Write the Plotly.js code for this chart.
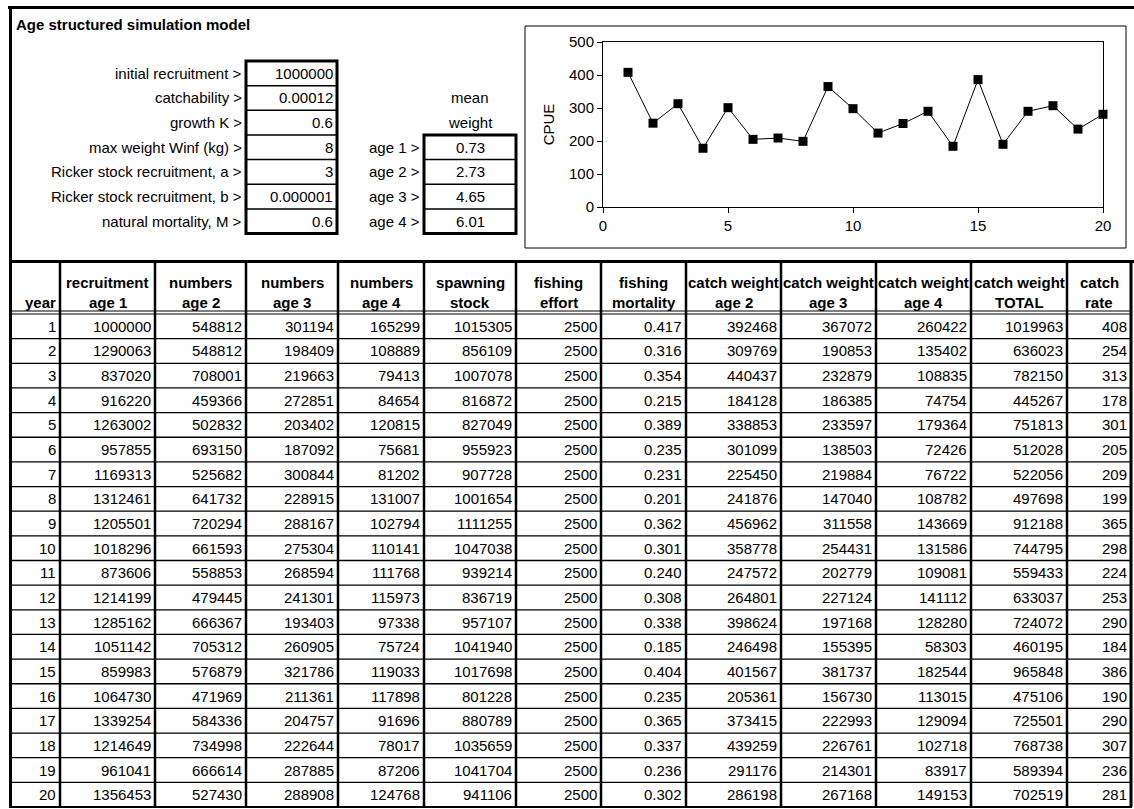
<!DOCTYPE html>
<html>
<head>
<meta charset="utf-8">
<script src="https://cdn.plot.ly/plotly-3.0.1.min.js"></script>
<style>html,body{margin:0;padding:0;background:#fff;}#chart{width:1134px;height:809px;}</style>
</head>
<body>
<div id="chart"></div>
<script>
// ---------------- DATA ----------------
const title = "Age structured simulation model";
const paramLabels = ["initial recruitment >", "catchability >", "growth K >", "max weight Winf (kg) >",
  "Ricker stock recruitment, a >", "Ricker stock recruitment, b >", "natural mortality, M >"];
const paramValues = ["1000000", "0.00012", "0.6", "8", "3", "0.000001", "0.6"];
const weightLabels = ["age 1 >", "age 2 >", "age 3 >", "age 4 >"];
const meanWeights = [0.73, 2.73, 4.65, 6.01];

const headerLine1 = ["", "recruitment", "numbers", "numbers", "numbers", "spawning", "fishing", "fishing",
  "catch weight", "catch weight", "catch weight", "catch weight", "catch"];
const headerLine2 = ["year", "age 1", "age 2", "age 3", "age 4", "stock", "effort", "mortality",
  "age 2", "age 3", "age 4", "TOTAL", "rate"];

const years = [1,2,3,4,5,6,7,8,9,10,11,12,13,14,15,16,17,18,19,20];
const recruitment = [1000000,1290063,837020,916220,1263002,957855,1169313,1312461,1205501,1018296,873606,1214199,1285162,1051142,859983,1064730,1339254,1214649,961041,1356453];
const numbersAge2 = [548812,548812,708001,459366,502832,693150,525682,641732,720294,661593,558853,479445,666367,705312,576879,471969,584336,734998,666614,527430];
const numbersAge3 = [301194,198409,219663,272851,203402,187092,300844,228915,288167,275304,268594,241301,193403,260905,321786,211361,204757,222644,287885,288908];
const numbersAge4 = [165299,108889,79413,84654,120815,75681,81202,131007,102794,110141,111768,115973,97338,75724,119033,117898,91696,78017,87206,124768];
const spawningStock = [1015305,856109,1007078,816872,827049,955923,907728,1001654,1111255,1047038,939214,836719,957107,1041940,1017698,801228,880789,1035659,1041704,941106];
const fishingEffort = [2500,2500,2500,2500,2500,2500,2500,2500,2500,2500,2500,2500,2500,2500,2500,2500,2500,2500,2500,2500];
const fishingMortality = [0.417,0.316,0.354,0.215,0.389,0.235,0.231,0.201,0.362,0.301,0.240,0.308,0.338,0.185,0.404,0.235,0.365,0.337,0.236,0.302];
const catchWeightAge2 = [392468,309769,440437,184128,338853,301099,225450,241876,456962,358778,247572,264801,398624,246498,401567,205361,373415,439259,291176,286198];
const catchWeightAge3 = [367072,190853,232879,186385,233597,138503,219884,147040,311558,254431,202779,227124,197168,155395,381737,156730,222993,226761,214301,267168];
const catchWeightAge4 = [260422,135402,108835,74754,179364,72426,76722,108782,143669,131586,109081,141112,128280,58303,182544,113015,129094,102718,83917,149153];
const catchWeightTotal = [1019963,636023,782150,445267,751813,512028,522056,497698,912188,744795,559433,633037,724072,460195,965848,475106,725501,768738,589394,702519];
const catchRate = [408,254,313,178,301,205,209,199,365,298,224,253,290,184,386,190,290,307,236,281];

// ---------------- LAYOUT CONSTANTS ----------------
const W = 1134, H = 809;
const FONT = '"Liberation Sans", Arial, Helvetica, sans-serif';
const FS = 15;
const X = px => px / W;
const Y = py => 1 - py / H;

const colEdges = [12, 60, 155, 246, 338, 424, 516, 601, 686, 781, 876, 971, 1067, 1131];
const tableTop = 262, headerBottom = 314, tableBottom = 807;
const rowH = (tableBottom - headerBottom) / years.length;
const topRowTop = 61, topRowH = 24.65;
const pBox = [246, 337], wBox = [424, 516];
const chartFrame = [525, 26, 1126, 248];
const plotX = [603, 1103], plotY = [42, 207];

const shapes = [];
const annotations = [];
function line(x0, y0, x1, y1, w) {
  shapes.push({type: 'line', xref: 'paper', yref: 'paper', x0: X(x0), y0: Y(y0), x1: X(x1), y1: Y(y1),
    line: {color: '#000', width: w}});
}
function rect(x0, y0, x1, y1, w) {
  shapes.push({type: 'rect', xref: 'paper', yref: 'paper', x0: X(x0), y0: Y(y0), x1: X(x1), y1: Y(y1),
    line: {color: '#000', width: w}, fillcolor: 'rgba(0,0,0,0)'});
}
function text(str, x, y, anchor, bold, size) {
  annotations.push({xref: 'paper', yref: 'paper', x: X(x), y: Y(y), text: bold ? '<b>' + str + '</b>' : str,
    showarrow: false, xanchor: anchor, yanchor: 'middle', borderpad: 0,
    font: {family: FONT, size: size || FS, color: '#000'}});
}

// outer frame
line(8, 7.5, W, 7.5, 3);
line(10.5, 6, 10.5, tableBottom + 1, 3);
line(9, tableTop - 0.5, W, tableTop - 0.5, 3);
line(9, tableBottom, colEdges[colEdges.length - 1] + 1, tableBottom, 2);

// title
text(title, 15, 24, 'left', true, FS);

// parameter box
paramLabels.forEach((lab, i) => {
  const yc = topRowTop + (i + 0.5) * topRowH;
  text(lab, pBox[0] - 3, yc, 'right', false);
  text(paramValues[i], pBox[1] - 3, yc, 'right', false);
  if (i > 0) line(pBox[0], topRowTop + i * topRowH, pBox[1], topRowTop + i * topRowH, 1.5);
});
rect(pBox[0], topRowTop, pBox[1], topRowTop + paramLabels.length * topRowH, 3);

// mean weight box
const wStart = paramLabels.length - weightLabels.length;
text('mean', (wBox[0] + wBox[1]) / 2, topRowTop + (wStart - 2 + 0.5) * topRowH, 'center', false);
text('weight', (wBox[0] + wBox[1]) / 2, topRowTop + (wStart - 1 + 0.5) * topRowH, 'center', false);
weightLabels.forEach((lab, i) => {
  const yc = topRowTop + (wStart + i + 0.5) * topRowH;
  text(lab, wBox[0] - 3, yc, 'right', false);
  text(meanWeights[i].toFixed(2), (wBox[0] + wBox[1]) / 2, yc, 'center', false);
  if (i > 0) line(wBox[0], topRowTop + (wStart + i) * topRowH, wBox[1], topRowTop + (wStart + i) * topRowH, 1.5);
});
rect(wBox[0], topRowTop + wStart * topRowH, wBox[1], topRowTop + paramLabels.length * topRowH, 3);

// chart frame
rect(chartFrame[0], chartFrame[1], chartFrame[2], chartFrame[3], 1);

// table
const columns = [years, recruitment, numbersAge2, numbersAge3, numbersAge4, spawningStock, fishingEffort,
  fishingMortality.map(v => v.toFixed(3)), catchWeightAge2, catchWeightAge3, catchWeightAge4, catchWeightTotal, catchRate];

headerLine1.forEach((h, c) => {
  const xc = (colEdges[c] + colEdges[c + 1]) / 2;
  if (c === 0) {
    text(headerLine2[c], colEdges[c + 1] - 3, 302, 'right', true);
  } else {
    text(h, xc, 282, 'center', true);
    text(headerLine2[c], xc, 302, 'center', true);
  }
});
columns.forEach((col, c) => {
  col.forEach((v, r) => {
    text(String(v), colEdges[c + 1] - 3, headerBottom + (r + 0.5) * rowH, 'right', false);
  });
});
// header double line
line(colEdges[0], headerBottom - 3, colEdges[colEdges.length - 1], headerBottom - 3, 1);
line(colEdges[0], headerBottom, colEdges[colEdges.length - 1], headerBottom, 1);
// row lines
for (let r = 1; r < years.length; r++) {
  const yy = headerBottom + r * rowH;
  line(colEdges[0], yy, colEdges[colEdges.length - 1], yy, 1.3);
}
// column lines
colEdges.slice(1).forEach((xe, i) => {
  line(xe, tableTop, xe, tableBottom, i === colEdges.length - 2 ? 3 : 2.5);
});

// ---------------- CHART ----------------
const trace = {
  type: 'scatter', mode: 'lines+markers', x: years, y: catchRate,
  line: {color: '#000', width: 1},
  marker: {symbol: 'square', size: 9, color: '#000'},
  cliponaxis: false, hoverinfo: 'x+y'
};

const layout = {
  width: W, height: H, margin: {l: 0, r: 0, t: 0, b: 0}, showlegend: false,
  paper_bgcolor: '#fff', plot_bgcolor: '#fff',
  font: {family: FONT, size: FS, color: '#000'},
  xaxis: {domain: [X(plotX[0]), X(plotX[1])], range: [0, 20], dtick: 5, tick0: 0,
    showline: true, linecolor: '#000', linewidth: 1, mirror: true, ticks: 'outside', ticklen: 5, tickcolor: '#000',
    showgrid: false, zeroline: false, tickfont: {family: FONT, size: FS, color: '#000'}, fixedrange: true},
  yaxis: {domain: [Y(plotY[1]), Y(plotY[0])], range: [0, 500], dtick: 100, tick0: 0,
    showline: true, linecolor: '#000', linewidth: 1, mirror: true, ticks: 'outside', ticklen: 5, tickcolor: '#000',
    showgrid: false, zeroline: false, tickfont: {family: FONT, size: FS, color: '#000'}, fixedrange: true,
    title: {text: 'CPUE', font: {family: FONT, size: FS, color: '#000'}, standoff: 10}},
  shapes: shapes, annotations: annotations
};

Plotly.newPlot('chart', [trace], layout, {displayModeBar: false, staticPlot: true});
</script>
</body>
</html>
